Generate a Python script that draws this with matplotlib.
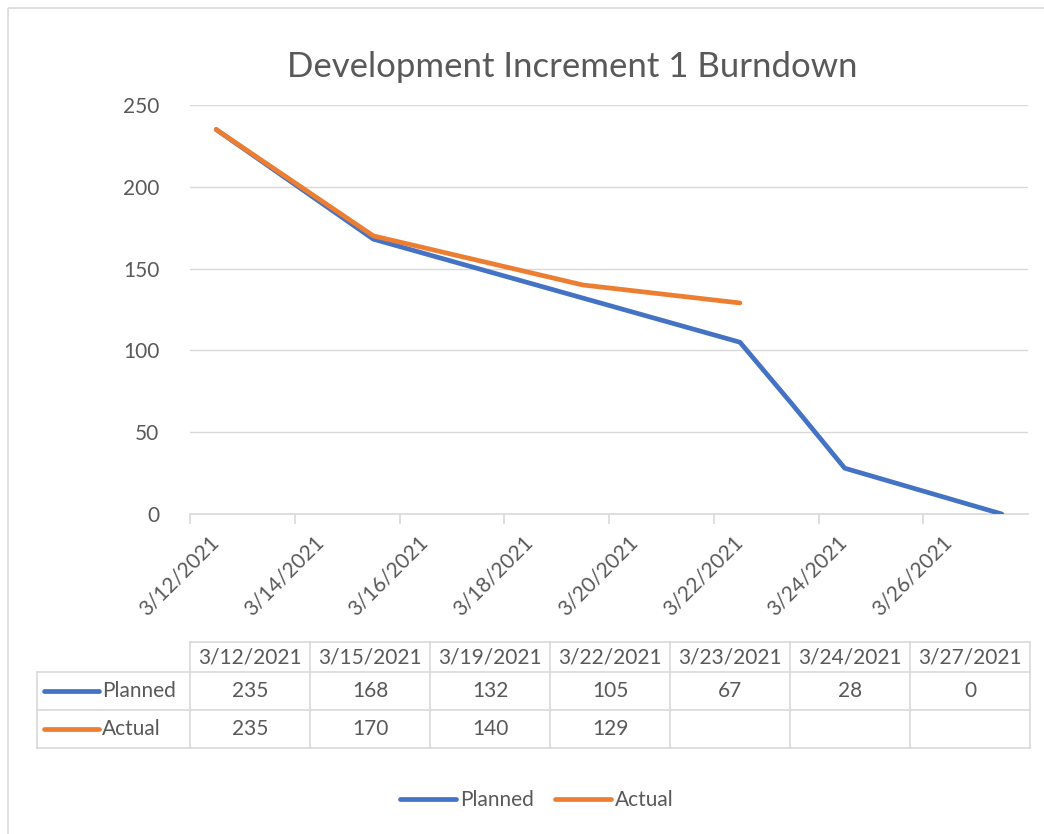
import matplotlib
matplotlib.use("Agg")
import matplotlib.pyplot as plt
import matplotlib.transforms as mtransforms
from datetime import datetime, timedelta

plt.rcParams["font.family"] = ["Lato", "DejaVu Sans"]

dates = ["3/12/2021", "3/15/2021", "3/19/2021", "3/22/2021",
         "3/23/2021", "3/24/2021", "3/27/2021"]
planned = [235, 168, 132, 105, 67, 28, 0]
actual = [235, 170, 140, 129]
tick_dates = ["3/12/2021", "3/14/2021", "3/16/2021", "3/18/2021",
              "3/20/2021", "3/22/2021", "3/24/2021", "3/26/2021"]

BLUE = "#4472C4"
ORANGE = "#ED7D31"
TXT = "#595959"
GRID = "#D9D9D9"
FS = 15

W, H = 1044, 834


def to_dt(s):
    return datetime.strptime(s, "%m/%d/%Y")


# Excel date axis puts points in the middle of each day
x_pts = [to_dt(d) + timedelta(hours=12) for d in dates]

fig = plt.figure(figsize=(W / 100, H / 100), dpi=100)

# overlay in pixel coordinates for border + data table
ov = fig.add_axes([0, 0, 1, 1])
ov.set_xlim(0, W)
ov.set_ylim(H, 0)
ov.axis("off")
ov.add_patch(plt.Rectangle((8, 8), W + 20, H + 20, fill=False,
                           edgecolor=GRID, lw=1.2))

ax = fig.add_axes([190 / W, 1 - 514 / H, (1028 - 190) / W, (514 - 105) / H])
ax.plot(x_pts, planned, color=BLUE, lw=3.4, solid_capstyle="round",
        label="Planned", zorder=3)
ax.plot(x_pts[:len(actual)], actual, color=ORANGE, lw=3.4,
        solid_capstyle="round", label="Actual", zorder=4)

ax.set_ylim(0, 250)
ax.set_yticks(range(0, 251, 50))
ax.set_xlim(to_dt("3/12/2021"), to_dt("3/28/2021"))
ax.grid(axis="y", color=GRID, lw=1)
ax.set_axisbelow(True)
for s in ["left", "right", "top"]:
    ax.spines[s].set_visible(False)
ax.spines["bottom"].set_color(GRID)
ax.spines["bottom"].set_linewidth(1.2)
ax.tick_params(axis="y", length=0, labelsize=FS, labelcolor=TXT, pad=22)
ax.tick_params(axis="x", length=7, color=GRID, width=1.2, labelsize=FS,
               labelcolor=TXT, pad=6)
ax.set_xticks([to_dt(d) for d in tick_dates])
ax.set_xticklabels(tick_dates, rotation=45, ha="center", va="top")
# Excel sits the rotated labels a little left of the tick
shift = mtransforms.ScaledTranslation(-0.11, 0, fig.dpi_scale_trans)
for lab in ax.get_xticklabels():
    lab.set_transform(lab.get_transform() + shift)

fig.text(572 / W, 1 - 67 / H, "Development Increment 1 Burndown",
         ha="center", va="center", fontsize=25, color=TXT)

# data table
col_x = [190 + 120 * i for i in range(len(dates) + 1)]
lab_x0 = 37
row_y = [642, 672, 710, 748]
lc = dict(color=GRID, lw=1.2)
# horizontal lines
ov.plot([col_x[0], col_x[-1]], [row_y[0], row_y[0]], **lc)
for y in row_y[1:]:
    ov.plot([lab_x0, col_x[-1]], [y, y], **lc)
# vertical lines
for x in col_x:
    ov.plot([x, x], [row_y[0], row_y[-1]], **lc)
ov.plot([lab_x0, lab_x0], [row_y[1], row_y[-1]], **lc)

tk = dict(ha="center", va="center", fontsize=FS, color=TXT)
for i, d in enumerate(dates):
    cx = (col_x[i] + col_x[i + 1]) / 2
    ov.text(cx, (row_y[0] + row_y[1]) / 2, d, **tk)
    ov.text(cx, (row_y[1] + row_y[2]) / 2, str(planned[i]), **tk)
    if i < len(actual):
        ov.text(cx, (row_y[2] + row_y[3]) / 2, str(actual[i]), **tk)

for r, (name, c) in enumerate([("Planned", BLUE), ("Actual", ORANGE)]):
    cy = (row_y[r + 1] + row_y[r + 2]) / 2
    ov.plot([44, 99], [cy, cy], color=c, lw=3.4, solid_capstyle="round")
    ov.text(102, cy, name, ha="left", va="center", fontsize=FS, color=TXT)

leg = fig.legend(loc="center", bbox_to_anchor=(537 / W, 1 - 800 / H),
                 ncol=2, frameon=False, fontsize=FS, handlelength=2.7,
                 handletextpad=0.2, columnspacing=1.0)
for t in leg.get_texts():
    t.set_color(TXT)

fig.savefig("out.png", dpi=100)
